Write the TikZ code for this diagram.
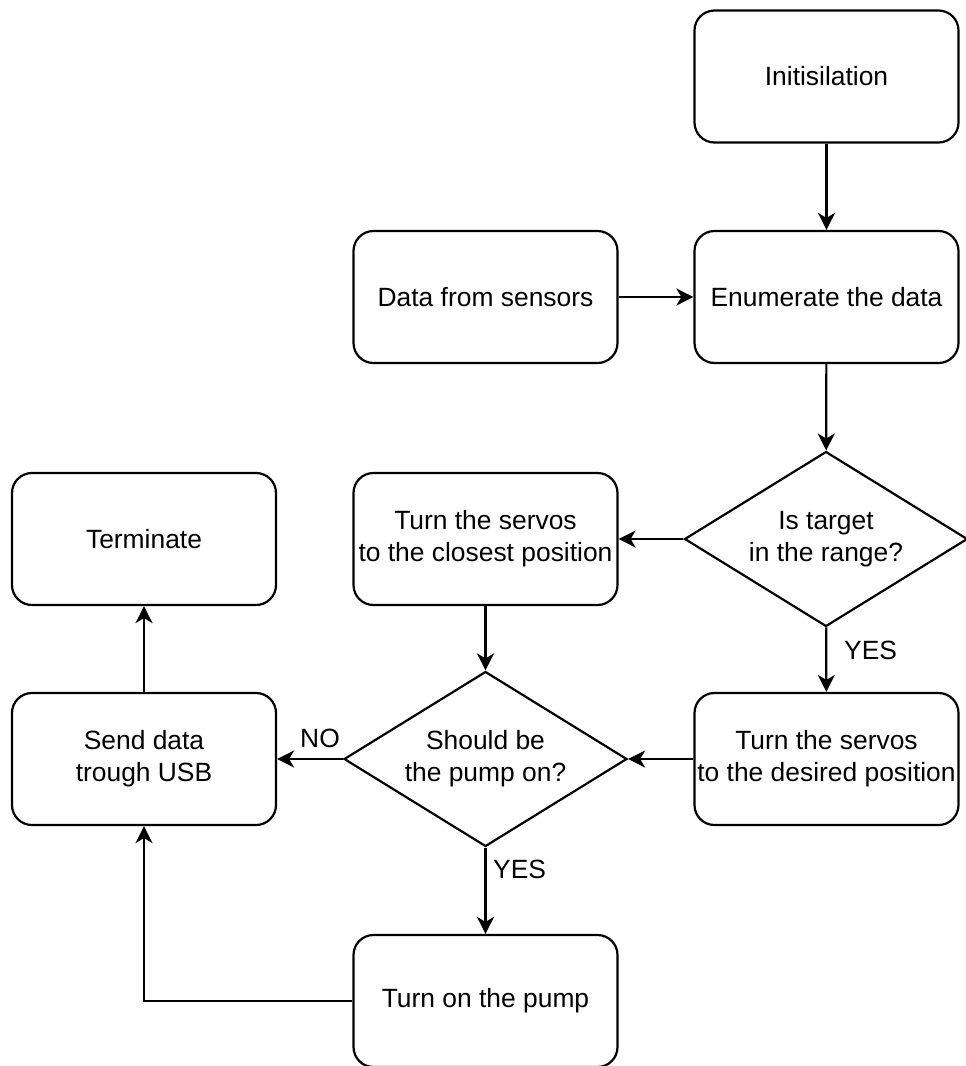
\documentclass[tikz,border=0pt]{standalone}
\usepackage{fontspec}
\setmainfont{Liberation Sans}
\usetikzlibrary{shapes.geometric,arrows.meta}
\begin{document}
\begin{tikzpicture}[x=1pt,y=-1pt,
  every node/.style={font=\fontsize{26.4}{31.7}\selectfont, text=black},
  box/.style={draw, line width=2.2pt, rectangle, rounded corners=20pt,
    minimum width=264pt, minimum height=132pt, inner sep=0pt, align=center, fill=white},
  dia/.style={draw, line width=2.2pt, diamond, aspect=1.62, inner sep=0pt,
    minimum width=283pt, minimum height=175pt, align=center, fill=white},
  conn/.style={line width=2.2pt, -{Stealth[length=17pt,width=17pt,inset=5pt]}},
  lbl/.style={inner sep=0pt}
]
\useasboundingbox (0,0) rectangle (966,1066);
\node[box] (init) at (826.5,76.5) {Initisilation};
\node[box] (sens) at (485.5,297) {Data from sensors};
\node[box] (enum) at (826.5,297) {Enumerate the data};
\node[dia] (range) at (826,539) {Is target\\in the range?};
\node[box] (close) at (485.5,539) {Turn the servos\\to the closest position};
\node[box] (term) at (144,539) {Terminate};
\node[box] (send) at (144,759) {Send data\\trough USB};
\node[dia] (pump) at (485.5,759) {Should be\\the pump on?};
\node[box] (desired) at (826.5,759) {Turn the servos\\to the desired position};
\node[box] (on) at (485.5,1001) {Turn on the pump};

\draw[conn] (init) -- (enum);
\draw[conn] (sens) -- (enum);
\draw[conn] (enum) -- (range);
\draw[conn] (range) -- (close);
\draw[conn] (range) -- (desired);
\draw[conn] (desired) -- (pump);
\draw[conn] (close) -- (pump);
\draw[conn] (pump) -- (send);
\draw[conn] (pump) -- (on);
\draw[conn] (on.west) -| (send.south);
\draw[conn] (send) -- (term);

\node[lbl, anchor=west] (yes1) at (844,650) {YES};
\node[lbl, anchor=west] (yes2) at (493,869) {YES};
\node[lbl] (no) at (320,738) {NO};
\end{tikzpicture}
\end{document}
